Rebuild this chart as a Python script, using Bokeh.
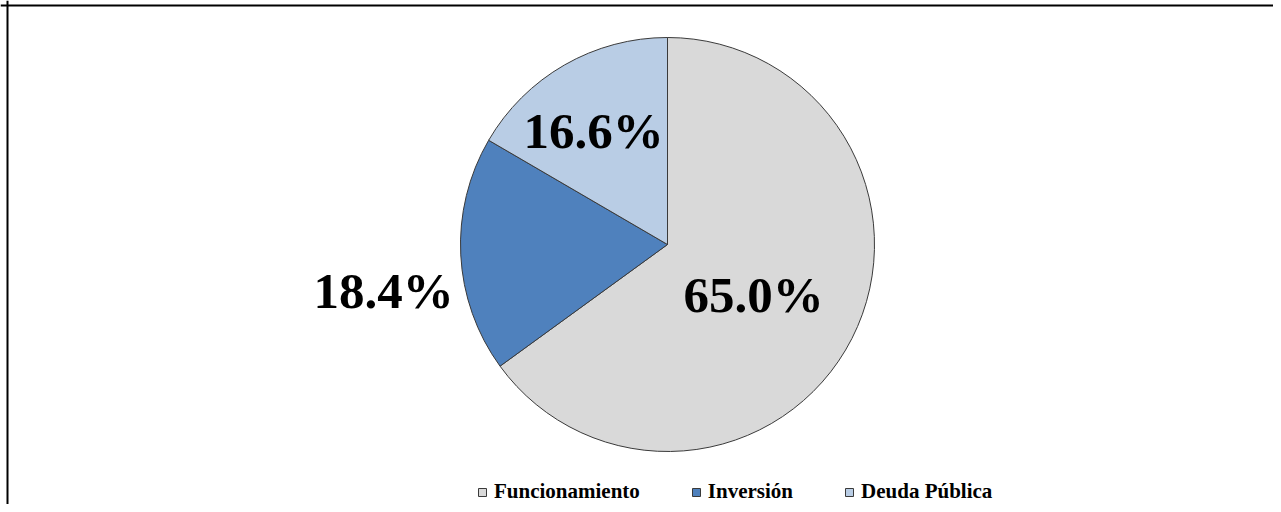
import math
from bokeh.plotting import figure
from bokeh.models import ColumnDataSource, Legend, LegendItem, Span, Range1d
from bokeh.embed import file_html
from bokeh.resources import INLINE
from bokeh.core.properties import value

# ---- data ----
categories = ["Funcionamiento", "Inversión", "Deuda Pública"]
shares = [65.0, 18.4, 16.6]
label_texts = ["65.0%", "18.4%", "16.6%"]
colors = ["#D9D9D9", "#4F81BD", "#B9CDE5"]

# ---- layout ----
W, H = 1273, 504
CX, CY, R = 667, H - 244, 207
label_dx = [86, -284, -74]
label_dy = [-50, -46, 114]

total = sum(shares)
starts, ends = [], []
acc = 0.0
for s in shares:
    a0 = math.pi / 2 - 2 * math.pi * acc / total
    acc += s
    a1 = math.pi / 2 - 2 * math.pi * acc / total
    starts.append(a0)
    ends.append(a1)

src = ColumnDataSource(dict(
    x=[CX] * len(shares), y=[CY] * len(shares),
    start=starts, end=ends, color=colors, cat=categories,
))

p = figure(width=W, height=H, x_range=Range1d(0, W), y_range=Range1d(0, H),
           output_backend="svg", toolbar_location=None, min_border=0,
           x_axis_location=None, y_axis_location=None)
p.grid.visible = False
p.outline_line_color = None
p.background_fill_color = "white"

r = p.wedge(x="x", y="y", radius=R, start_angle="start", end_angle="end",
            direction="clock", fill_color="color", line_color="#3a3a3a",
            line_width=1, source=src)

lsrc = ColumnDataSource(dict(
    x=[CX + dx for dx in label_dx], y=[CY + dy for dy in label_dy], t=label_texts))
p.text(x="x", y="y", text="t", source=lsrc, text_align="center",
       text_baseline="middle", text_font=value("Liberation Serif"),
       text_font_style="bold", text_font_size="51px", text_color="black")

items = [LegendItem(label=c, renderers=[r], index=i) for i, c in enumerate(categories)]
legend = Legend(items=items, orientation="horizontal", location=(477, 0),
                glyph_width=10, glyph_height=10, label_standoff=7, spacing=51,
                padding=0, margin=0, border_line_alpha=0, background_fill_alpha=0,
                label_text_font="Liberation Serif", label_text_font_style="bold",
                label_text_font_size="21px", label_text_color="black")
p.add_layout(legend)

p.add_layout(Span(location=H - 5, dimension="width", line_color="black", line_width=2))
p.add_layout(Span(location=7, dimension="height", line_color="black", line_width=2))

open("out.html", "w").write(file_html(p, INLINE))
